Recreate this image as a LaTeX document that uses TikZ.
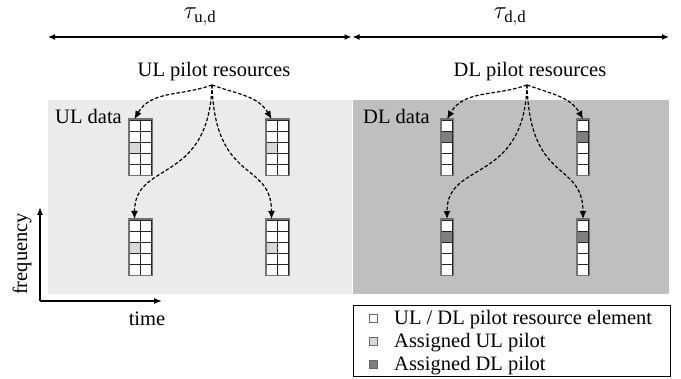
\documentclass[tikz,border=0pt]{standalone}
\usepackage{fontspec}
\setmainfont{Liberation Serif}
\usetikzlibrary{arrows.meta,calc}
\definecolor{panelL}{HTML}{EBEBEB}
\definecolor{panelD}{HTML}{BFBFBF}
\definecolor{ulcell}{HTML}{D9D9D9}
\definecolor{dlcell}{HTML}{7F7F7F}
\tikzset{
  txt/.style={font=\fontsize{20.5}{24}\selectfont, inner sep=0pt},
  tautxt/.style={font=\fontsize{24}{28}\selectfont, inner sep=0pt},
  blockbox/.style={draw=black!55, line width=1.2pt, inner sep=0pt, minimum height=55pt},
  cellline/.style={draw=black!85, line width=0.8pt},
  pilotarrow/.style={dash pattern=on 3.5pt off 2pt, line width=1.2pt, -{Latex[length=8pt,width=7pt]}},
  spanarrow/.style={line width=1.3pt, {Latex[length=7pt,width=6pt]}-{Latex[length=7pt,width=6pt]}},
  axisarrow/.style={line width=1.3pt, -{Latex[length=8pt,width=6pt]}},
  legsq/.style={draw=black!60, line width=0.7pt, minimum size=7.5pt, inner sep=0pt},
}
\newcommand\ulgrid[1]{%
  \foreach \r in {0,...,4}{\foreach \c in {0,1}{
    \path[cellline, fill=white] ($(#1.south west)+(\c*11,\r*11)$) rectangle ++(11,11);}}
  \path[cellline, fill=ulcell] ($(#1.south west)+(0,22)$) rectangle ++(11,11);
  \draw[draw=black!55, line width=1.2pt] (#1.south west) rectangle (#1.north east);
}
\newcommand\dlgrid[1]{%
  \foreach \r in {0,...,4}{
    \path[cellline, fill=white] ($(#1.south west)+(0,\r*11)$) rectangle ++(11,11);}
  \path[cellline, fill=dlcell] ($(#1.south west)+(0,33)$) rectangle ++(11,11);
  \draw[draw=black!55, line width=1.2pt] (#1.south west) rectangle (#1.north east);
}
\begin{document}
\begin{tikzpicture}[x=1pt,y=1pt]
\useasboundingbox (0,0) rectangle (681,379);
% panels
\fill[panelL] (48,85) rectangle (352,279);
\fill[panelD] (353,85) rectangle (669,279);
% span arrows
\coordinate (sL) at (48,342);
\coordinate (sM1) at (351.5,342);
\coordinate (sM2) at (352.5,342);
\coordinate (sR) at (669,342);
\draw[spanarrow] (sL) -- (sM1);
\draw[spanarrow] (sM2) -- (sR);
\node[tautxt] (tauu) at (200,362) {$\tau_{\mathrm{u,d}}$};
\node[tautxt] (taud) at (510,362) {$\tau_{\mathrm{d,d}}$};
% pilot labels
\node[txt, anchor=base] (ulpl) at (214,302) {UL pilot resources};
\node[txt, anchor=base] (dlpl) at (530,302) {DL pilot resources};
\coordinate (ulsrc) at (212,294);
\coordinate (dlsrc) at (527,294);
% data labels
\node[txt, anchor=base west] (uld) at (55,255) {UL data};
\node[txt, anchor=base west] (dld) at (363,255) {DL data};
% UL blocks
\node[blockbox, minimum width=22pt, anchor=north west] (u1) at (129,260) {};
\node[blockbox, minimum width=22pt, anchor=north west] (u2) at (266,260) {};
\node[blockbox, minimum width=22pt, anchor=north west] (u3) at (129,160) {};
\node[blockbox, minimum width=22pt, anchor=north west] (u4) at (266,160) {};
\ulgrid{u1}\ulgrid{u2}\ulgrid{u3}\ulgrid{u4}
% DL blocks
\node[blockbox, minimum width=11pt, anchor=north west] (d1) at (441,260) {};
\node[blockbox, minimum width=11pt, anchor=north west] (d2) at (577,260) {};
\node[blockbox, minimum width=11pt, anchor=north west] (d3) at (441,160) {};
\node[blockbox, minimum width=11pt, anchor=north west] (d4) at (577,160) {};
\dlgrid{d1}\dlgrid{d2}\dlgrid{d3}\dlgrid{d4}
% UL arrows
\coordinate (tu1) at ($(u1.north west)+(5.5,0)$);
\coordinate (tu2) at ($(u2.north west)+(5.5,0)$);
\coordinate (tu3) at ($(u3.north west)+(5.5,0)$);
\coordinate (tu4) at ($(u4.north west)+(5.5,0)$);
\draw[pilotarrow] (ulsrc) to[out=200,in=60] (tu1);
\draw[pilotarrow] (ulsrc) to[out=-20,in=120] (tu2);
\draw[pilotarrow] (ulsrc) .. controls (209,194) and (134.5,219) .. (tu3);
\draw[pilotarrow] (ulsrc) .. controls (215,194) and (271.5,219) .. (tu4);
% DL arrows
\coordinate (td1) at ($(d1.north)$);
\coordinate (td2) at ($(d2.north)$);
\coordinate (td3) at ($(d3.north)$);
\coordinate (td4) at ($(d4.north)$);
\draw[pilotarrow] (dlsrc) to[out=200,in=60] (td1);
\draw[pilotarrow] (dlsrc) to[out=-20,in=120] (td2);
\draw[pilotarrow] (dlsrc) .. controls (524,194) and (446.5,219) .. (td3);
\draw[pilotarrow] (dlsrc) .. controls (530,194) and (582.5,219) .. (td4);
% axes
\coordinate (origin) at (40,78);
\coordinate (ftop) at (40,172);
\coordinate (tend) at (162,78);
\draw[axisarrow] (origin) -- (ftop);
\draw[axisarrow] (origin) -- (tend);
\node[txt, rotate=90] (freq) at (22,125) {frequency};
\node[txt, anchor=base] (time) at (147,53) {time};
% legend
\node[draw=black, line width=1.3pt, minimum width=317pt, minimum height=71pt, inner sep=0pt, anchor=north west] (leg) at (353,74) {};
\node[legsq, fill=white] (sq1) at (373.5,60.5) {};
\node[legsq, fill=ulcell] (sq2) at (373.5,37.5) {};
\node[legsq, fill=dlcell] (sq3) at (373.5,14.5) {};
\node[txt, anchor=base west] (l1) at (394,54) {UL / DL pilot resource element};
\node[txt, anchor=base west] (l2) at (394,31) {Assigned UL pilot};
\node[txt, anchor=base west] (l3) at (394,8) {Assigned DL pilot};
\end{tikzpicture}
\end{document}
